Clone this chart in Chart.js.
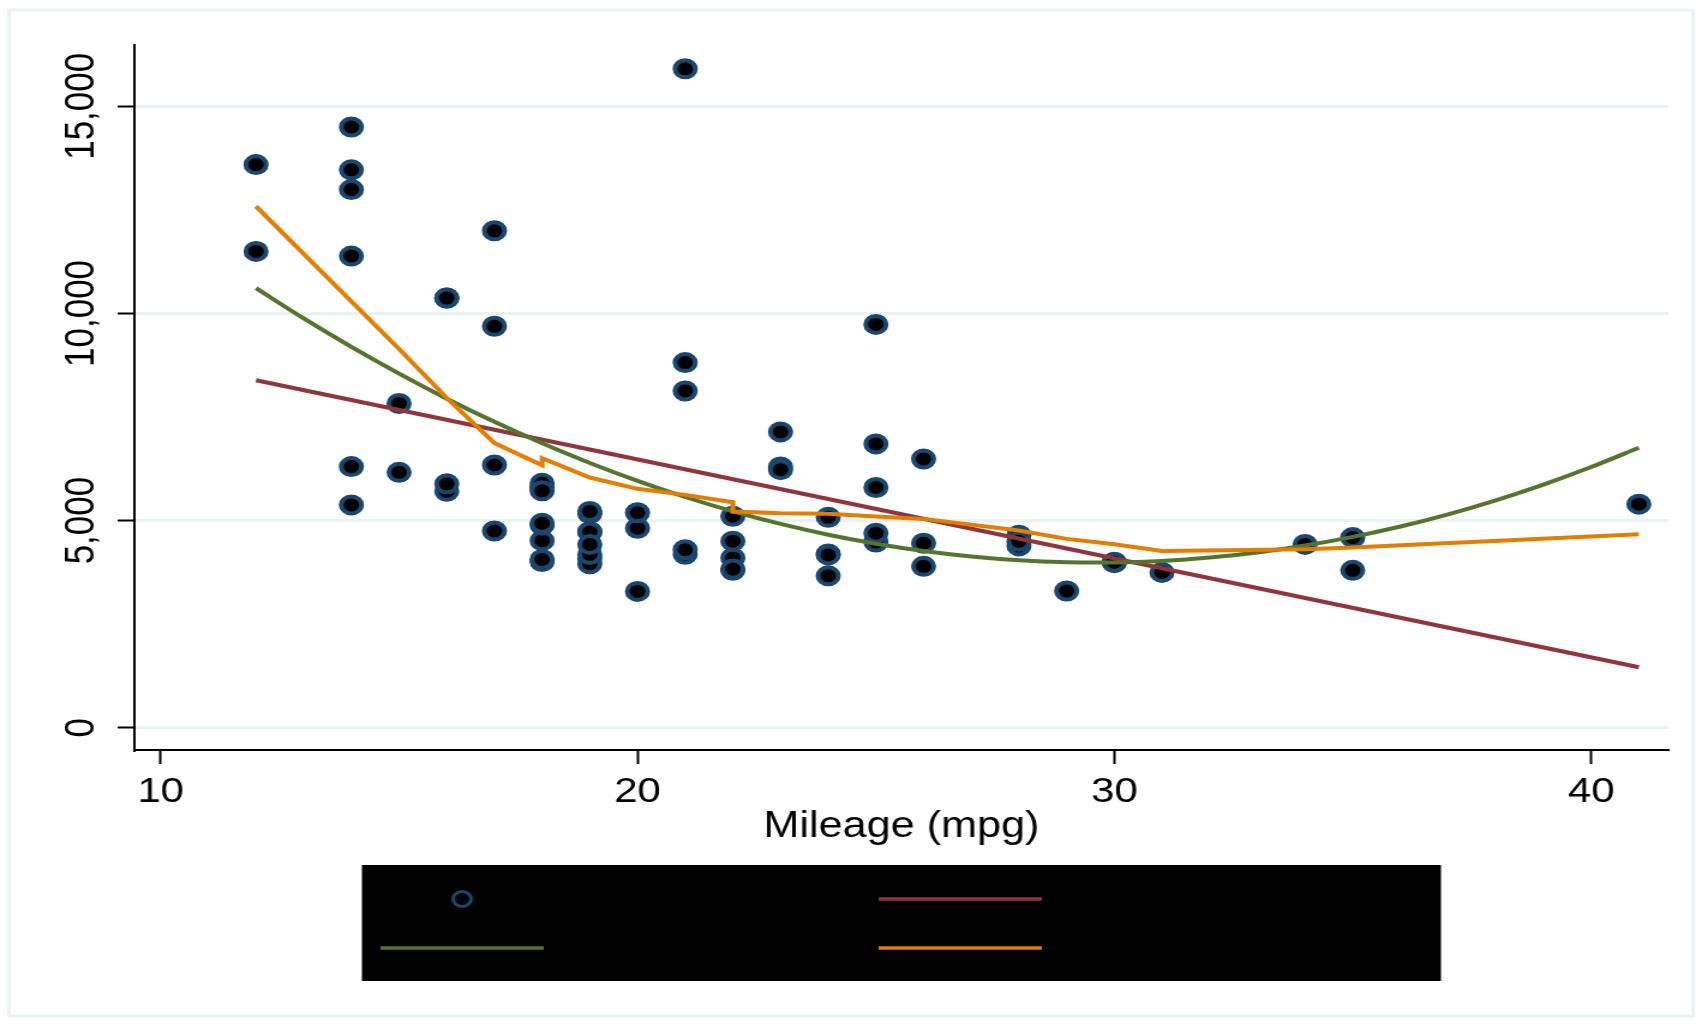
<!DOCTYPE html>
<html>
<head>
<meta charset="utf-8">
<script src="https://cdn.jsdelivr.net/npm/chart.js@4.4.1/dist/chart.umd.min.js"></script>
<style>
  html, body { margin: 0; padding: 0; background: #fff; overflow: hidden; }
  /* the reference is stretched sideways, so the chart is drawn narrower and scaled out */
  #wrap { width: 1418px; height: 1026px; transform: scaleX(1.20028); transform-origin: 0 0; }
</style>
</head>
<body>
<div id="wrap"><canvas id="chart"></canvas></div>
<script>
// price vs mileage, one entry per car
const mpg = [
  22, 17, 22, 20, 15, 18, 26, 20, 16, 19, 14, 14, 21, 29, 16, 22, 22, 24, 19,
  30, 18, 16, 17, 28, 21, 12, 12, 14, 22, 14, 15, 18, 14, 20, 21, 19, 19, 18,
  19, 24, 16, 28, 34, 25, 26, 18, 18, 18, 19, 19, 19, 24, 17, 23, 25, 23, 35,
  24, 21, 21, 25, 28, 30, 14, 26, 35, 18, 31, 18, 23, 41, 25, 25, 17,
];
const price = [
  4099, 4749, 3799, 4816, 7827, 5788, 4453, 5189, 10372, 4082, 11385, 14500,
  15906, 3299, 5705, 4504, 5104, 3667, 3955, 3984, 4010, 5886, 6342, 4389,
  4187, 11497, 13594, 13466, 3829, 5379, 6165, 4516, 6303, 3291, 8814, 5172,
  4733, 4890, 4181, 4195, 10371, 4647, 4425, 4482, 6486, 4060, 5798, 4934,
  5222, 4723, 4424, 4172, 9690, 6295, 9735, 6229, 4589, 5079, 8129, 4296,
  5799, 4499, 3995, 12990, 3895, 3798, 5899, 3748, 5719, 7140, 5397, 4697,
  6850, 11995,
];

// linear fit
const lfitX = [12, 41];
const lfitY = [8386, 1459];

// quadratic fit
const qfitX = [
  12, 13, 14, 15, 16, 17, 18, 19, 20, 21, 22, 23, 24, 25, 26,
  27, 28, 29, 30, 31, 32, 33, 34, 35, 36, 37, 38, 39, 40, 41,
];
const qfitY = [
  10610, 9879, 9191, 8546, 7942, 7383, 6865, 6391, 5959, 5569, 5223, 4919,
  4658, 4440, 4264, 4132, 4041, 3994, 3989, 4027, 4108, 4231, 4398, 4607,
  4858, 5152, 5490, 5869, 6292, 6757,
];

// lowess smooth
const lowessX = [12, 14, 15, 16, 17, 18, 18, 19, 20, 21, 22, 22, 23, 24, 25, 26, 28, 29, 30, 31, 34, 35, 41];
const lowessY = [
  12585, 10290, 9140, 7957, 6870, 6333, 6507, 6039, 5766, 5621, 5444, 5217,
  5178, 5162, 5097, 5041, 4759, 4558, 4430, 4268, 4309, 4348, 4671,
];

const xTicks = [10, 20, 30, 40];
const xTickLabels = ["10", "20", "30", "40"];
const yTicks = [0, 5000, 10000, 15000];
const yTickLabels = ["0", "5,000", "10,000", "15,000"];

const navy = "#1a476f";
const maroon = "#90353b";
const green = "#55752f";
const orange = "#e37e00";
const gridColor = "#eaf2f3";

const toPoints = (xs, ys) => xs.map((x, i) => ({ x: x, y: ys[i] }));

Chart.defaults.font.family = "'Liberation Sans', Arial, sans-serif";
Chart.defaults.color = "#000";

// stata-style frame and legend box
const stataLegend = {
  id: "stataLegend",
  beforeDraw(chart) {
    const ctx = chart.ctx;
    ctx.save();
    ctx.strokeStyle = gridColor;
    ctx.lineWidth = 3;
    ctx.strokeRect(7.5, 10, 1403, 1006);
    ctx.restore();
  },
  afterDraw(chart) {
    const { ctx, chartArea } = chart;
    const boxW = 899;
    const boxLeft = (chartArea.left + chartArea.right) / 2 - boxW / 2;
    const boxTop = 865;
    ctx.save();
    ctx.fillStyle = "#000";
    ctx.fillRect(boxLeft, boxTop, boxW, 116);

    const cols = [boxLeft + 83.5, boxLeft + 498.5];
    const rows = [899, 948];
    chart.data.datasets.forEach((ds, i) => {
      const cx = cols[i % 2];
      const cy = rows[Math.floor(i / 2)];
      if (ds.type === "scatter") {
        ctx.beginPath();
        ctx.arc(cx, cy, 7.5, 0, Math.PI * 2);
        ctx.fillStyle = ds.backgroundColor;
        ctx.fill();
        ctx.lineWidth = 3;
        ctx.strokeStyle = ds.borderColor;
        ctx.stroke();
      } else {
        ctx.beginPath();
        ctx.moveTo(cx - 68, cy);
        ctx.lineTo(cx + 68, cy);
        ctx.lineWidth = 3.5;
        ctx.strokeStyle = ds.borderColor;
        ctx.stroke();
      }
      ctx.fillStyle = "#000";
      ctx.font = "35px 'Liberation Sans', Arial, sans-serif";
      ctx.textBaseline = "middle";
      ctx.textAlign = "left";
      ctx.fillText(ds.label, cx + 90, cy);
    });
    ctx.restore();
  },
};

new Chart(document.getElementById("chart"), {
  data: {
    datasets: [
      {
        type: "scatter",
        label: "Price",
        data: toPoints(mpg, price),
        backgroundColor: "#000",
        borderColor: navy,
        borderWidth: 4,
        pointRadius: 8.5,
        order: 3,
      },
      {
        type: "line",
        label: "Fitted values",
        data: toPoints(lfitX, lfitY),
        borderColor: maroon,
        borderWidth: 4,
        pointRadius: 0,
        fill: false,
        order: 2,
      },
      {
        type: "line",
        label: "Fitted values",
        data: toPoints(qfitX, qfitY),
        borderColor: green,
        borderWidth: 4,
        pointRadius: 0,
        tension: 0.3,
        fill: false,
        order: 1,
      },
      {
        type: "line",
        label: "lowess price mpg",
        data: toPoints(lowessX, lowessY),
        borderColor: orange,
        borderWidth: 4,
        pointRadius: 0,
        fill: false,
        order: 0,
      },
    ],
  },
  options: {
    responsive: true,
    maintainAspectRatio: false,
    animation: false,
    events: [],
    layout: {
      padding: { left: 12, right: 28, top: 45, bottom: 166 },
    },
    plugins: {
      legend: { display: false },
      tooltip: { enabled: false },
    },
    scales: {
      x: {
        type: "linear",
        min: 9.45,
        max: 41.62,
        afterBuildTicks: (scale) => {
          scale.ticks = xTicks.map((v) => ({ value: v }));
        },
        afterFit: (scale) => {
          scale.height = 110;
        },
        ticks: {
          autoSkip: false,
          padding: 7.5,
          font: { size: 35 },
          callback: (v, i) => xTickLabels[i],
        },
        grid: {
          drawOnChartArea: false,
          tickLength: 14,
          tickColor: "#000",
          tickWidth: 2,
        },
        border: { color: "#000", width: 2 },
        title: {
          display: true,
          text: "Mileage (mpg)",
          font: { size: 36 },
          padding: { top: 0, bottom: 11 },
        },
      },
      y: {
        type: "linear",
        min: -538,
        max: 16480,
        afterBuildTicks: (scale) => {
          scale.ticks = yTicks.map((v) => ({ value: v }));
        },
        afterFit: (scale) => {
          scale.width = 100;
        },
        ticks: {
          autoSkip: false,
          minRotation: 90,
          maxRotation: 90,
          crossAlign: "center",
          padding: -24,
          font: { size: 35 },
          callback: (v, i) => yTickLabels[i],
        },
        grid: {
          color: gridColor,
          lineWidth: 3,
          tickLength: 14,
          tickColor: "#000",
          tickWidth: 2,
        },
        border: { color: "#000", width: 2 },
      },
    },
  },
  plugins: [stataLegend],
});
</script>
</body>
</html>
